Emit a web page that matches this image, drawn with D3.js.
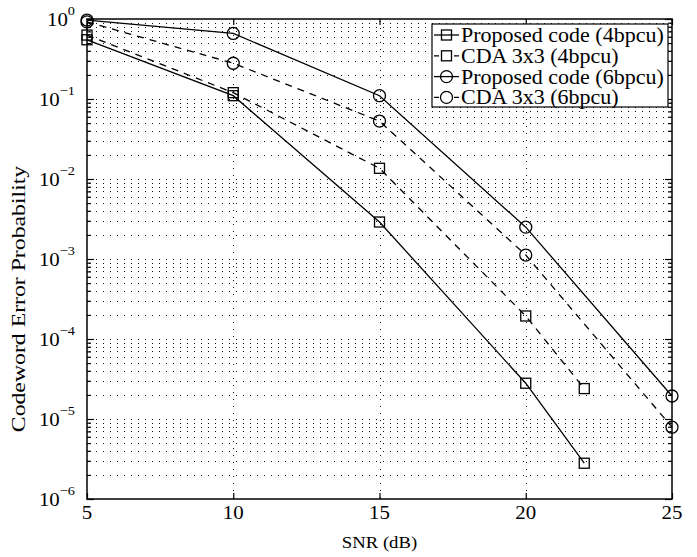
<!DOCTYPE html>
<html>
<head>
<meta charset="utf-8">
<script src="https://cdn.jsdelivr.net/npm/d3@7"></script>
<style>
  body { margin: 0; background: #fff; }
  text { font-family: "Liberation Serif", "Times New Roman", serif; fill: #000; }
</style>
</head>
<body>
<svg id="chart"></svg>
<script>
// data
var snr4 = [5, 10, 15, 20, 22];
var proposed4 = [0.55, 0.11, 0.0029, 2.8e-5, 2.8e-6];
var cda4 = [0.63, 0.12, 0.0136, 1.94e-4, 2.4e-5];

var snr6 = [5, 10, 15, 20, 25];
var proposed6 = [0.97, 0.66, 0.11, 0.0025, 1.94e-5];
var cda6 = [0.92, 0.28, 0.053, 0.00112, 7.9e-6];

var xTicks = [5, 10, 15, 20, 25];
var yExponents = [0, -1, -2, -3, -4, -5, -6];
var legendLabels = ["Proposed code (4bpcu)", "CDA 3x3 (4bpcu)", "Proposed code (6bpcu)", "CDA 3x3 (6bpcu)"];

var series = [
  { name: legendLabels[0], x: snr4, y: proposed4, dash: null, marker: "square" },
  { name: legendLabels[1], x: snr4, y: cda4, dash: "7,6", marker: "square" },
  { name: legendLabels[2], x: snr6, y: proposed6, dash: null, marker: "circle" },
  { name: legendLabels[3], x: snr6, y: cda6, dash: "7,6", marker: "circle" }
];

var margin = { top: 19, right: 25, bottom: 58, left: 87 },
    width = 697 - margin.left - margin.right,
    height = 557 - margin.top - margin.bottom;

var svg = d3.select("#chart")
    .attr("width", 697)
    .attr("height", 557)
    .append("g")
    .attr("transform", "translate(" + margin.left + "," + margin.top + ")");

var x = d3.scaleLinear().domain([5, 25]).range([0, width]);
var y = d3.scaleLog().domain([1e-6, 1]).range([height, 0]);

var majors = yExponents.map(function(e) { return Math.pow(10, e); });
var minors = [];
for (var e = -6; e < 0; e++) {
  for (var m = 2; m <= 9; m++) minors.push(m * Math.pow(10, e));
}

// grid
var grid = svg.append("g").attr("class", "grid")
    .attr("stroke", "#111").attr("stroke-width", 1).attr("stroke-dasharray", "1,6");

grid.selectAll("line.h")
    .data(majors.concat(minors).filter(function(d) { return d < 0.99 && d > 1.01e-6; }))
    .enter().append("line")
    .attr("class", "h")
    .attr("x1", 2).attr("x2", width)
    .attr("y1", function(d) { return Math.round(y(d)) + 0.5; })
    .attr("y2", function(d) { return Math.round(y(d)) + 0.5; });

grid.selectAll("line.v")
    .data([10, 15, 20])
    .enter().append("line")
    .attr("class", "v")
    .attr("y1", 2).attr("y2", height)
    .attr("x1", function(d) { return Math.round(x(d)) + 0.5; })
    .attr("x2", function(d) { return Math.round(x(d)) + 0.5; });

// axes, ticks inward on all four sides
function styleAxis(g) {
  g.select(".domain").remove();
  g.selectAll("line").attr("stroke", "#000").attr("stroke-width", 1.2);
}

svg.append("g").attr("transform", "translate(0," + height + ")")
    .call(d3.axisBottom(x).tickValues(xTicks).tickSize(-6).tickFormat(""))
    .call(styleAxis);
svg.append("g")
    .call(d3.axisTop(x).tickValues(xTicks).tickSize(-6).tickFormat(""))
    .call(styleAxis);
svg.append("g")
    .call(d3.axisLeft(y).tickValues(majors).tickSize(-7).tickFormat(""))
    .call(styleAxis);
svg.append("g")
    .call(d3.axisLeft(y).tickValues(minors).tickSize(-4).tickFormat(""))
    .call(styleAxis);
svg.append("g").attr("transform", "translate(" + width + ",0)")
    .call(d3.axisRight(y).tickValues(majors).tickSize(-7).tickFormat(""))
    .call(styleAxis);
svg.append("g").attr("transform", "translate(" + width + ",0)")
    .call(d3.axisRight(y).tickValues(minors).tickSize(-4).tickFormat(""))
    .call(styleAxis);

svg.append("rect")
    .attr("width", width).attr("height", height)
    .attr("fill", "none").attr("stroke", "#000").attr("stroke-width", 1.5);

// x tick labels
svg.selectAll("text.xt")
    .data(xTicks)
    .enter().append("text")
    .attr("class", "xt")
    .attr("transform", function(d) { return "translate(" + x(d) + "," + (height + 20) + ") scale(1.1,1)"; })
    .attr("text-anchor", "middle")
    .style("font-size", "19px")
    .text(function(d) { return d; });

// y tick labels 10^e
var yt = svg.selectAll("text.yt")
    .data(yExponents)
    .enter().append("text")
    .attr("class", "yt")
    .attr("transform", function(d) { return "translate(-12," + (y(Math.pow(10, d)) + 7) + ") scale(1.1,1)"; })
    .attr("text-anchor", "end")
    .style("font-size", "19px");
yt.append("tspan").text("10");
yt.append("tspan")
    .attr("dy", -11)
    .style("font-size", "13px")
    .text(function(d) { return d === 0 ? "0" : "\u2212" + (-d); });

// axis titles
svg.append("text")
    .attr("transform", "translate(" + (width / 2) + "," + (height + 49) + ") scale(1.1,1)")
    .attr("text-anchor", "middle")
    .style("font-size", "17px")
    .text("SNR (dB)");

svg.append("text")
    .attr("transform", "translate(" + (25 - margin.left) + "," + (height / 2 + 40) + ") rotate(-90) scale(1.25,1)")
    .attr("text-anchor", "middle")
    .style("font-size", "19px")
    .text("Codeword Error Probability");

// curves
var line = d3.line()
    .x(function(d) { return x(d[0]); })
    .y(function(d) { return y(d[1]); });

function drawMarker(g, type) {
  if (type === "square") {
    g.append("rect")
        .attr("x", -5).attr("y", -5).attr("width", 10).attr("height", 10);
  } else {
    g.append("circle").attr("r", 6);
  }
}

series.forEach(function(s) {
  var pts = s.x.map(function(v, i) { return [v, s.y[i]]; });
  svg.append("path")
      .datum(pts)
      .attr("d", line)
      .attr("fill", "none")
      .attr("stroke", "#000")
      .attr("stroke-width", 1.3)
      .attr("stroke-dasharray", s.dash);

  svg.append("g").selectAll("g")
      .data(pts)
      .enter().append("g")
      .attr("transform", function(d) { return "translate(" + x(d[0]) + "," + y(d[1]) + ")"; })
      .each(function() { drawMarker(d3.select(this), s.marker); })
      .selectAll("rect, circle")
      .attr("fill", "none")
      .attr("stroke", "#000")
      .attr("stroke-width", 1.3);
});

// legend
var legend = svg.append("g")
    .attr("transform", "translate(" + (432 - margin.left) + "," + (24 - margin.top) + ")");

legend.append("rect")
    .attr("width", 236).attr("height", 83)
    .attr("fill", "#fff").attr("stroke", "#000").attr("stroke-width", 1.2);

var rows = legend.selectAll("g.row")
    .data(series)
    .enter().append("g")
    .attr("class", "row")
    .attr("transform", function(d, i) { return "translate(0," + (11 + i * 20.8) + ")"; });

rows.append("line")
    .attr("x1", 2).attr("x2", 27)
    .attr("stroke", "#000").attr("stroke-width", 1.3)
    .attr("stroke-dasharray", function(d) { return d.dash ? "5,15" : null; });

rows.append("g")
    .attr("transform", "translate(14.5,0)")
    .each(function(d) { drawMarker(d3.select(this), d.marker); })
    .selectAll("rect, circle")
    .attr("fill", "none")
    .attr("stroke", "#000")
    .attr("stroke-width", 1.3);

rows.append("text")
    .attr("transform", "translate(29,7) scale(1.1,1)")
    .style("font-size", "20px")
    .text(function(d) { return d.name; });
</script>
</body>
</html>
